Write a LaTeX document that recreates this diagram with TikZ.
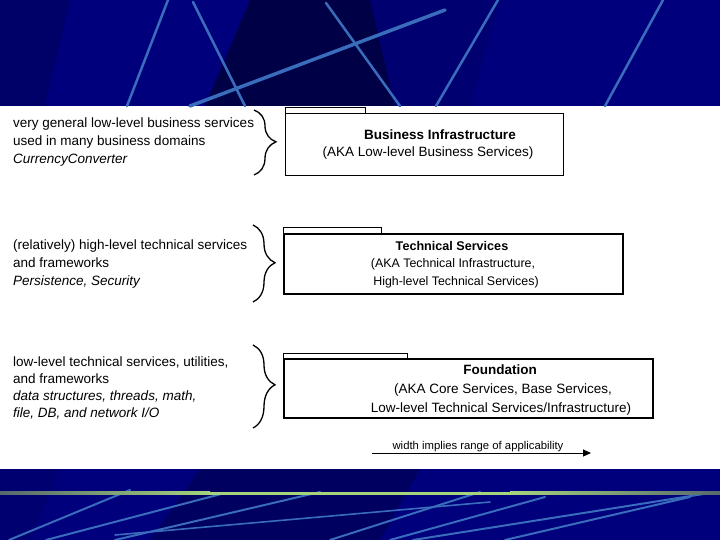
\documentclass[tikz,border=0pt]{standalone}
\usepackage{fontspec}
\setmainfont{Liberation Sans}
\usetikzlibrary{decorations.pathreplacing,arrows.meta}
\definecolor{bgblue}{RGB}{0,0,125}
\definecolor{bgdark}{RGB}{0,0,70}
\definecolor{bgmid}{RGB}{0,0,105}
\definecolor{streak}{RGB}{58,108,188}
\definecolor{gline1}{RGB}{85,105,110}
\definecolor{gline2}{RGB}{165,212,125}
\tikzset{
  txt/.style={inner sep=0pt, font=\fontsize{13.5}{16}\selectfont},
  txtit/.style={txt, font=\fontsize{13.5}{16}\selectfont\itshape},
  boxbf/.style={inner sep=0pt, font=\fontsize{13.5}{16}\selectfont\bfseries},
  boxrm/.style={inner sep=0pt, font=\fontsize{13.5}{16}\selectfont},
  boxbfs/.style={inner sep=0pt, font=\fontsize{12.6}{15}\selectfont\bfseries},
  boxrms/.style={inner sep=0pt, font=\fontsize{12.4}{15}\selectfont},
  pkgtab/.style={draw=black, fill=white, line width=#1, inner sep=0pt, anchor=north west},
  pkgbox/.style={draw=black, fill=white, line width=#1, inner sep=0pt, anchor=north west},
  bracestyle/.style={decorate, decoration={brace, amplitude=22pt, aspect=#1}, line width=1.3pt},
  streakline/.style={draw=streak, line width=#1, line cap=round},
}
\begin{document}
\begin{tikzpicture}[x=1pt,y=-1pt]
\useasboundingbox (0,0) rectangle (720,540);
% white area
\fill[white] (0,0) rectangle (720,540);
% ---- top band ----
\fill[bgblue] (0,0) rectangle (720,106);
\fill[bgmid] (0,0) -- (70,0) -- (45,106) -- (0,106) -- cycle;
\fill[bgdark] (250,0) -- (370,0) -- (395,106) -- (205,106) -- cycle;
\fill[bgmid,opacity=.6] (370,0) -- (500,0) -- (470,106) -- (395,106) -- cycle;
\draw[streakline=2.5pt] (168,0) -- (127,106);
\draw[streakline=2.5pt] (193,2) -- (245,106);
\draw[streakline=3.5pt] (445,10) -- (190,106);
\draw[streakline=2.5pt] (326,3) -- (400,106);
\draw[streakline=2.5pt] (498,0) -- (436,106);
\draw[streakline=2.5pt] (663,0) -- (605,106);
% ---- bottom band ----
\fill[bgblue] (0,469) rectangle (720,540);
\fill[bgdark,opacity=.5] (200,469) -- (420,469) -- (380,540) -- (150,540) -- cycle;
\fill[bgmid,opacity=.6] (0,469) -- (60,469) -- (30,540) -- (0,540) -- cycle;
\draw[streakline=2pt] (9,540) -- (130,490);
\draw[streakline=2pt] (46,540) -- (225,493);
\draw[streakline=2pt] (115,540) -- (320,492);
\draw[streakline=1.6pt] (115,535) -- (490,502);
\draw[streakline=2pt] (330,540) -- (480,492);
\draw[streakline=2pt] (390,540) -- (545,497);
\draw[streakline=2pt] (505,540) -- (690,497);
\draw[streakline=2pt] (413,540) -- (716,492);
\shade[left color=gline1, right color=gline2] (0,491.5) rectangle (210,494.5);
\fill[gline2] (209.5,491.5) rectangle (510.5,494.5);
\shade[left color=gline2, right color=gline1] (510,491.5) rectangle (720,494.5);
% ---- Business Infrastructure ----
\node[pkgtab=0.9pt, minimum width=80pt, minimum height=6pt] (bitab) at (285,107) {};
\node[pkgbox=0.9pt, minimum width=278pt, minimum height=62pt] (bibox) at (285,113) {};
\node[boxbf, anchor=base] (bit1) at (440,139.5) {Business Infrastructure};
\node[boxrm, anchor=base] (bit2) at (428,157) {(AKA Low-level Business Services)};
% ---- Technical Services ----
\node[pkgtab=1.2pt, minimum width=98pt, minimum height=6pt] (tstab) at (283,227) {};
\node[pkgbox=2pt, minimum width=339pt, minimum height=60pt] (tsbox) at (283,233) {};
\node[boxbfs, anchor=base] (tst1) at (452,250) {Technical Services};
\node[boxrms, anchor=base] (tst2) at (453,267) {(AKA Technical Infrastructure,};
\node[boxrms, anchor=base] (tst3) at (456,285) {High-level Technical Services)};
% ---- Foundation ----
\node[pkgtab=1.2pt, minimum width=124pt, minimum height=5pt] (fdtab) at (283,353) {};
\node[pkgbox=2pt, minimum width=369pt, minimum height=59pt] (fdbox) at (283,358) {};
\node[boxbf, anchor=base] (fdt1) at (500,374.5) {Foundation};
\node[boxrm, anchor=base] (fdt2) at (503,393.5) {(AKA Core Services, Base Services,};
\node[boxrm, anchor=base] (fdt3) at (501,412.5) {Low-level Technical Services/Infrastructure)};
% ---- left descriptions ----
\node[txt, anchor=base west] (bl1) at (13,128) {very general low-level business services};
\node[txt, anchor=base west] (bl2) at (13,146) {used in many business domains};
\node[txtit, anchor=base west] (bl3) at (13,164) {CurrencyConverter};
\node[txt, anchor=base west] (tl1) at (13,249.5) {(relatively) high-level technical services};
\node[txt, anchor=base west] (tl2) at (13,267.5) {and frameworks};
\node[txtit, anchor=base west] (tl3) at (13,285) {Persistence, Security};
\node[txt, anchor=base west] (fl1) at (13,366.5) {low-level technical services, utilities,};
\node[txt, anchor=base west] (fl2) at (13,383.5) {and frameworks};
\node[txtit, anchor=base west] (fl3) at (13,400.5) {data structures, threads, math,};
\node[txtit, anchor=base west] (fl4) at (13,417.5) {file, DB, and network I/O};
% ---- braces ----
\coordinate (bbt) at (254,110);
\coordinate (bbb) at (254,175);
\coordinate (tbt) at (253,225);
\coordinate (tbb) at (253,302);
\coordinate (fbt) at (253,345);
\coordinate (fbb) at (253,428);
\draw[bracestyle=0.49] (bbt) -- (bbb);
\draw[bracestyle=0.49] (tbt) -- (tbb);
\draw[bracestyle=0.48] (fbt) -- (fbb);
% ---- width arrow ----
\coordinate (as) at (372,453);
\coordinate (ae) at (591,453);
\draw[line width=1pt, -{Triangle[length=8pt,width=7pt]}] (as) -- (ae);
\node[inner sep=0pt, font=\fontsize{11.3}{13}\selectfont, anchor=base] (albl) at (478,449) {width implies range of applicability};
\end{tikzpicture}
\end{document}
